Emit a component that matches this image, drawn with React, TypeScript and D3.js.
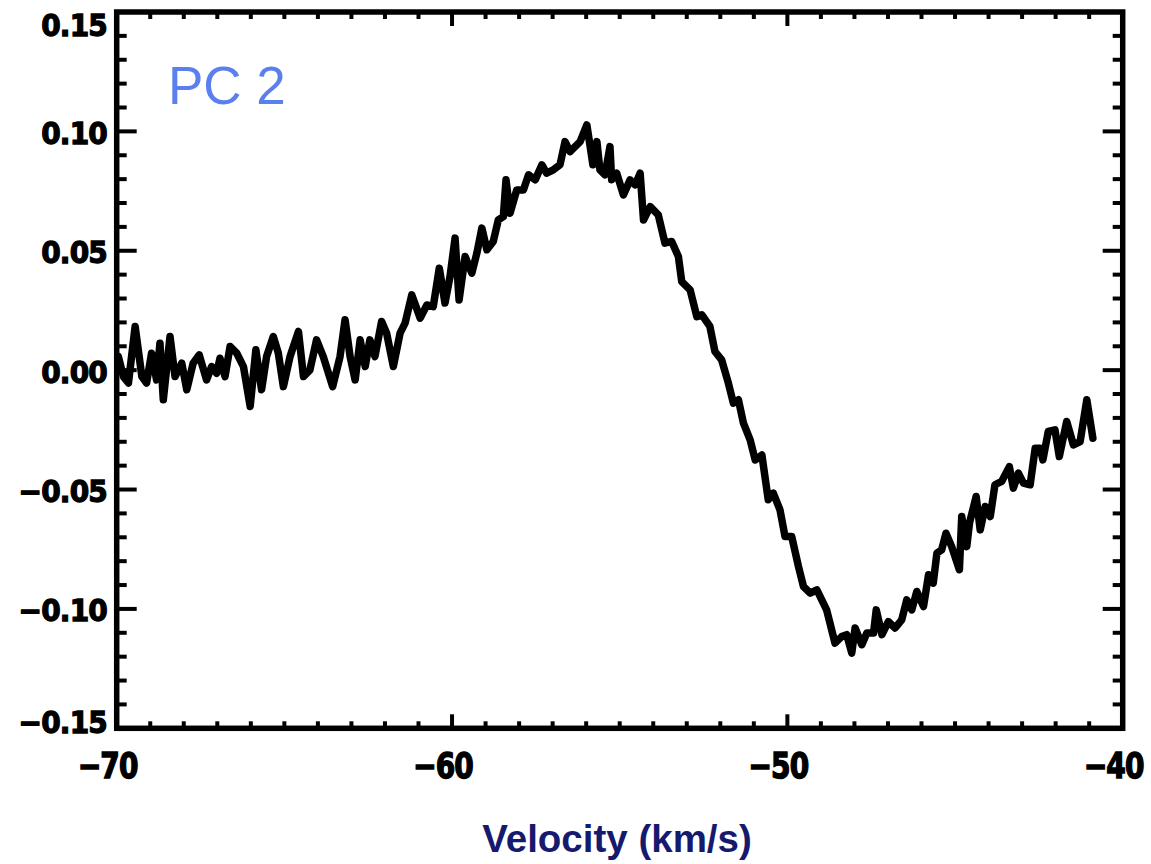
import React from "react";
import * as d3 from "d3";

const velocity = [
  -69.95, -69.8, -69.65, -69.45, -69.25, -69.11, -68.96, -68.81, -68.71, -68.61,
  -68.41, -68.26, -68.06, -67.91, -67.72, -67.54, -67.32, -67.17, -67.02, -66.92,
  -66.77, -66.62, -66.42, -66.22, -66.02, -65.85, -65.68, -65.53, -65.33, -65.18,
  -65.03, -64.83, -64.58, -64.43, -64.24, -64.04, -63.84, -63.56, -63.34, -63.19,
  -63.04, -62.89, -62.74, -62.59, -62.45, -62.3, -62.1, -61.95, -61.75, -61.55,
  -61.4, -61.2, -60.95, -60.75, -60.56, -60.38, -60.21, -60.06, -59.91, -59.79,
  -59.61, -59.41, -59.26, -59.11, -58.96, -58.77, -58.62, -58.47, -58.39, -58.27,
  -58.07, -57.87, -57.72, -57.52, -57.32, -57.18, -56.98, -56.78, -56.63, -56.48,
  -56.33, -56.18, -55.98, -55.88, -55.8, -55.68, -55.59, -55.44, -55.29, -55.24,
  -55.09, -54.89, -54.69, -54.54, -54.39, -54.29, -54.09, -53.85, -53.65, -53.45,
  -53.25, -53.15, -52.9, -52.7, -52.55, -52.31, -52.16, -51.96, -51.76, -51.61,
  -51.46, -51.31, -51.11, -50.96, -50.76, -50.57, -50.42, -50.22, -50.07, -49.87,
  -49.67, -49.52, -49.32, -49.12, -48.83, -48.73, -48.58, -48.38, -48.23, -48.08,
  -47.98, -47.78, -47.63, -47.43, -47.35, -47.18, -46.99, -46.79, -46.59, -46.44,
  -46.29, -46.14, -45.94, -45.79, -45.65, -45.54, -45.4, -45.27, -45.1, -44.87,
  -44.8, -44.65, -44.57, -44.37, -44.25, -44.1, -43.95, -43.81, -43.61, -43.38,
  -43.26, -43.11, -42.96, -42.76, -42.61, -42.46, -42.38, -42.22, -42.02, -41.89,
  -41.67, -41.47, -41.27, -41.07, -40.89,
];

const pc2 = [
  0.0057, -0.0027, -0.0054, 0.0183, -0.0027, -0.0054, 0.0071, -0.0041, 0.0113, -0.0124,
  0.0141, -0.0027, 0.0029, -0.0082, 0.0029, 0.0064, -0.0041, 0.0015, -0.0013, 0.005,
  -0.0027, 0.0099, 0.0071, 0.0015, -0.0152, 0.0085, -0.0082, 0.0057, 0.0141, 0.0071,
  -0.0069, 0.0057, 0.0162, -0.0027, 0.0, 0.0127, 0.0057, -0.0069, 0.0057, 0.0211,
  0.0057, -0.0041, 0.0127, 0.0015, 0.0127, 0.0057, 0.0204, 0.0155, 0.0015, 0.0155,
  0.0197, 0.0315, 0.0218, 0.0273, 0.0266, 0.0427, 0.0281, 0.0392, 0.0553, 0.0294,
  0.0476, 0.0406, 0.049, 0.0595, 0.0504, 0.0539, 0.0629, 0.0643, 0.0797, 0.0657,
  0.0755, 0.0755, 0.0818, 0.0797, 0.086, 0.0825, 0.0839, 0.086, 0.0957, 0.0915,
  0.0936, 0.0957, 0.1027, 0.0936, 0.086, 0.0957, 0.0839, 0.0818, 0.0936, 0.0797,
  0.0825, 0.0734, 0.0797, 0.0776, 0.0825, 0.0629, 0.0685, 0.065, 0.0532, 0.0539,
  0.0476, 0.0371, 0.0336, 0.0224, 0.0232, 0.0183, 0.0078, 0.0043, -0.0054, -0.0138,
  -0.0124, -0.0222, -0.0292, -0.0376, -0.0355, -0.0543, -0.0515, -0.0585, -0.0697, -0.0697,
  -0.0822, -0.0906, -0.0934, -0.092, -0.1004, -0.1059, -0.1143, -0.1116, -0.1108, -0.1185,
  -0.108, -0.115, -0.1101, -0.1101, -0.1004, -0.1108, -0.1053, -0.108, -0.1046, -0.0962,
  -0.1004, -0.0927, -0.099, -0.0857, -0.0892, -0.0766, -0.0753, -0.0683, -0.0739, -0.0836,
  -0.0613, -0.0739, -0.0641, -0.0529, -0.0669, -0.0571, -0.0613, -0.048, -0.0466, -0.0404,
  -0.0494, -0.0431, -0.0473, -0.048, -0.0327, -0.0327, -0.0376, -0.0257, -0.025, -0.0362,
  -0.0215, -0.0313, -0.0299, -0.0124, -0.0285,
];

const xMajorTicks = [-70, -60, -50, -40];
const yMajorTicks = [0.15, 0.1, 0.05, 0.0, -0.05, -0.1, -0.15];
const yTickLabels = ["0.15", "0.10", "0.05", "0.00", "\u22120.05", "\u22120.10", "\u22120.15"];
const xTickLabels = ["\u221270", "\u221260", "\u221250", "\u221240"];
const panelLabel = "PC 2";
const xTitle = "Velocity (km/s)";

const W = 1151;
const H = 864;
const L = 116.7;
const R = 1122.7;
const T = 12;
const B = 728.3;

export default function App() {
  const x = d3.scaleLinear().domain([-70, -40]).range([L, R]);
  const y = d3.scaleLinear().domain([-0.15, 0.15]).range([B, T]);

  const pts: [number, number][] = velocity.map((v, i) => [v, pc2[i]]);
  const line = d3
    .line<[number, number]>()
    .x((d) => x(d[0]))
    .y((d) => y(d[1]));

  const xMinor = d3.range(-70, -39.5, 1).filter((v) => !xMajorTicks.includes(Math.round(v)));
  const yMinor = d3.range(-15, 15.5, 1).map((k) => k / 100).filter((v) => Math.round(v * 100) % 5 !== 0);

  const xMajLen = 14;
  const xMinLen = 7;
  const yMajLen = 20;
  const yMinLen = 10;
  const tickW = 4;
  const font = "'DejaVu Sans', sans-serif";

  return (
    <svg
      width={W}
      height={H}
      style={{ position: "absolute", left: 0, top: 0, background: "#fff" }}
    >
      <rect x={0} y={0} width={W} height={H} fill="#fff" />
      {/* data line */}
      <path
        d={line(pts) || ""}
        fill="none"
        stroke="#000"
        strokeWidth={7.5}
        strokeLinejoin="round"
        strokeLinecap="round"
      />
      {/* frame */}
      <rect x={L} y={T} width={R - L} height={B - T} fill="none" stroke="#000" strokeWidth={5.5} />
      {/* x ticks bottom & top */}
      {xMajorTicks.map((v) => (
        <g key={"xM" + v}>
          <line x1={x(v)} x2={x(v)} y1={B} y2={B - xMajLen} stroke="#000" strokeWidth={tickW} />
          <line x1={x(v)} x2={x(v)} y1={T} y2={T + xMajLen} stroke="#000" strokeWidth={tickW} />
        </g>
      ))}
      {xMinor.map((v) => (
        <g key={"xm" + v}>
          <line x1={x(v)} x2={x(v)} y1={B} y2={B - xMinLen} stroke="#000" strokeWidth={tickW} />
          <line x1={x(v)} x2={x(v)} y1={T} y2={T + xMinLen} stroke="#000" strokeWidth={tickW} />
        </g>
      ))}
      {/* y ticks left & right */}
      {yMajorTicks.map((v) => (
        <g key={"yM" + v}>
          <line x1={L} x2={L + yMajLen} y1={y(v)} y2={y(v)} stroke="#000" strokeWidth={tickW} />
          <line x1={R} x2={R - yMajLen} y1={y(v)} y2={y(v)} stroke="#000" strokeWidth={tickW} />
        </g>
      ))}
      {yMinor.map((v) => (
        <g key={"ym" + v}>
          <line x1={L} x2={L + yMinLen} y1={y(v)} y2={y(v)} stroke="#000" strokeWidth={tickW} />
          <line x1={R} x2={R - yMinLen} y1={y(v)} y2={y(v)} stroke="#000" strokeWidth={tickW} />
        </g>
      ))}
      {/* y tick labels */}
      {yMajorTicks.map((v, i) => {
        const cy = Math.min(Math.max(y(v) + 2, 25), 722);
        return (
          <text
            key={"yl" + v}
            transform={`translate(107,${cy + 10.5}) scale(1,1.08)`}
            textAnchor="end"
            fontFamily={font}
            fontWeight="bold"
            fontSize={28}
            letterSpacing={-0.8}
            fill="#000"
            stroke="#000"
            strokeWidth={1.2}
          >
            {yTickLabels[i]}
          </text>
        );
      })}
      {/* x tick labels */}
      {xMajorTicks.map((v, i) => (
        <text
          key={"xl" + v}
          transform={`translate(${x(v) - 9},778) scale(1,1.25)`}
          textAnchor="middle"
          fontFamily={font}
          fontWeight="bold"
          fontSize={28}
          letterSpacing={-0.8}
          fill="#000"
          stroke="#000"
          strokeWidth={1.2}
        >
          {xTickLabels[i]}
        </text>
      ))}
      {/* panel label */}
      <text x={168} y={104} fontFamily="'Liberation Sans', Arial, sans-serif" fontSize={53} fill="#5b80ee">
        {panelLabel}
      </text>
      {/* x title */}
      <text
        x={617}
        y={852}
        textAnchor="middle"
        fontFamily="'Liberation Sans', Arial, sans-serif"
        fontWeight="bold"
        fontSize={38.5}
        fill="#161a6e"
      >
        {xTitle}
      </text>
    </svg>
  );
}
